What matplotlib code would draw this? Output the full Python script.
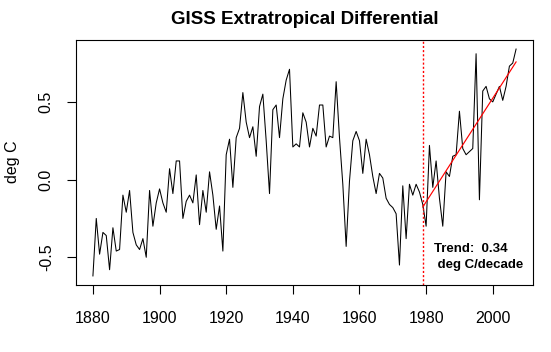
import numpy as np
import matplotlib
matplotlib.use("Agg")
import matplotlib.pyplot as plt
from matplotlib.ticker import FixedLocator, FormatStrFormatter

plt.rcParams['font.family'] = ['Liberation Sans', 'DejaVu Sans']
plt.rcParams['axes.unicode_minus'] = False
plt.rcParams['lines.scale_dashes'] = False

# ---- data ----
years = np.arange(1880, 2008)
values = [
    -0.62, -0.25, -0.48, -0.34, -0.36, -0.58, -0.31, -0.46, -0.45, -0.10,   # 1880s
    -0.21, -0.07, -0.34, -0.42, -0.45, -0.38, -0.50, -0.07, -0.30, -0.15,   # 1890s
    -0.06, -0.15, -0.21, 0.07, -0.09, 0.12, 0.12, -0.25, -0.14, -0.10,      # 1900s
    -0.15, 0.03, -0.29, -0.07, -0.21, 0.05, -0.10, -0.32, -0.17, -0.46,     # 1910s
    0.16, 0.26, -0.05, 0.27, 0.33, 0.56, 0.37, 0.27, 0.34, 0.15,            # 1920s
    0.47, 0.55, 0.25, -0.09, 0.45, 0.48, 0.27, 0.52, 0.64, 0.71,            # 1930s
    0.21, 0.23, 0.21, 0.43, 0.37, 0.21, 0.33, 0.28, 0.48, 0.48,             # 1940s
    0.21, 0.28, 0.27, 0.63, 0.27, -0.03, -0.43, -0.01, 0.25, 0.31,          # 1950s
    0.25, 0.04, 0.26, 0.16, 0.02, -0.09, 0.04, 0.01, -0.12, -0.16,          # 1960s
    -0.18, -0.22, -0.55, -0.04, -0.38, -0.03, -0.10, -0.03, -0.08, -0.16,   # 1970s
    -0.30, 0.22, -0.05, 0.12, -0.12, -0.30, 0.05, 0.02, 0.15, 0.16,         # 1980s
    0.44, 0.20, 0.16, 0.18, 0.20, 0.81, -0.13, 0.57, 0.60, 0.52,            # 1990s
    0.50, 0.55, 0.60, 0.51, 0.60, 0.73, 0.75, 0.84,                         # 2000s
]
values = np.array(values)
trend_start = 1979
x_ticks = [1880, 1900, 1920, 1940, 1960, 1980, 2000]
y_ticks = [-0.5, 0.0, 0.5]
title = "GISS Extratropical Differential"
ylabel = "deg C"
trend_text1 = "Trend:  0.34"
trend_text2 = " deg C/decade"

# ---- figure ----
W, H = 551, 352
fig = plt.figure(figsize=(W / 100, H / 100), dpi=100)
ax = fig.add_axes([76 / W, 1 - 285 / H, 457 / W, 245 / H])

ax.plot(years, values, color='black', lw=0.75)

# trend line
mask = years >= trend_start
coef = np.polyfit(years[mask], values[mask], 1)
ax.plot(years[mask], np.polyval(coef, years[mask]), color='#FF0000', lw=0.85)

ax.axvline(trend_start, color='#FF0000', lw=1.0, linestyle=(0, (1.5, 1.5)))

# R-style limits (4% extension)
xr = years.max() - years.min()
ax.set_xlim(years.min() - 0.04 * xr, years.max() + 0.04 * xr)
yr = values.max() - values.min()
ax.set_ylim(values.min() - 0.04 * yr, values.max() + 0.04 * yr)

ax.xaxis.set_major_locator(FixedLocator(x_ticks))
ax.yaxis.set_major_locator(FixedLocator(y_ticks))
ax.yaxis.set_major_formatter(FormatStrFormatter('%.1f'))

ax.tick_params(axis='both', direction='out', length=6.5, width=0.8,
               labelsize=11.5, color='black')
ax.tick_params(axis='x', pad=12.5)
ax.tick_params(axis='y', pad=9.5)
for lab in ax.get_yticklabels():
    lab.set_rotation(90)
    lab.set_va('center')
for s in ax.spines.values():
    s.set_linewidth(0.8)

ax.text(1982.4, -0.445, trend_text1, ha='left', va='center',
        fontsize=9.5, fontweight='bold')
ax.text(1982.4, -0.55, trend_text2, ha='left', va='center',
        fontsize=9.5, fontweight='bold')

fig.text(304.5 / W, 1 - 20 / H, title, ha='center', va='center',
         fontsize=13.5, fontweight='bold')
fig.text(13 / W, 1 - 162 / H, ylabel, ha='center', va='center',
         rotation=90, fontsize=11.5)

fig.savefig('out.png', dpi=100)
